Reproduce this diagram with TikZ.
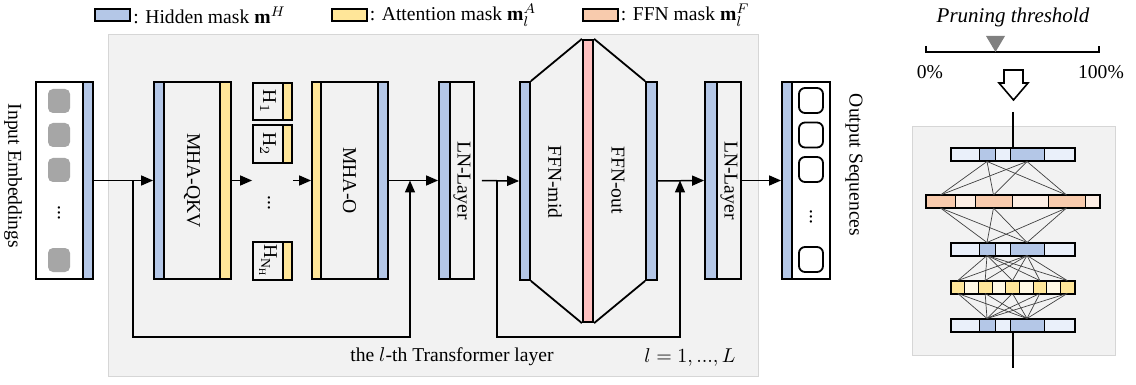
\documentclass[tikz,border=0pt]{standalone}
\usepackage{fontspec}
\setmainfont{Liberation Serif}
\usetikzlibrary{arrows.meta,calc}

\definecolor{hidblue}{HTML}{B4C7E7}
\definecolor{attyellow}{HTML}{FFE699}
\definecolor{ffnorange}{HTML}{F8CBAD}
\definecolor{ffnpink}{HTML}{FFC0C0}
\definecolor{hidlight}{HTML}{EAF0FA}
\definecolor{attlight}{HTML}{FFF8E3}
\definecolor{ffnlight}{HTML}{FDEEE4}
\definecolor{panelgray}{HTML}{F2F2F2}
\definecolor{panelline}{HTML}{D6D6D6}
\definecolor{tokgray}{HTML}{A6A6A6}

\tikzset{
  box/.style={draw, line width=0.9pt, minimum height=98.5pt, inner sep=0pt},
  mask/.style={box, minimum width=5pt},
  lbl/.style={rotate=-90, inner sep=0pt},
  link/.style={line width=0.75pt, -{Triangle[length=6pt,width=5pt]}},
  legbox/.style={draw, line width=1pt, minimum width=17.5pt, minimum height=6pt, inner sep=0pt},
  seg/.style={draw, line width=0.5pt, minimum height=6pt, inner sep=0pt},
  wire/.style={line width=0.35pt, black!75},
}

\begin{document}
\begin{tikzpicture}[x=0.5pt, y=-0.5pt, font=\fontsize{9.8}{11}\selectfont]
  \useasboundingbox (0,0) rectangle (1136,385);

  % legend
  \node[legbox, fill=hidblue] (legH) at (112.5,15) {};
  \node[anchor=west, inner sep=1pt] (legHtxt) at (legH.east) {: Hidden mask $\mathbf{m}^H$};
  \node[legbox, fill=attyellow] (legA) at (349,15) {};
  \node[anchor=west, inner sep=1pt] (legAtxt) at (legA.east) {: Attention mask $\mathbf{m}_l^A$};
  \node[legbox, fill=ffnorange] (legF) at (600,15) {};
  \node[anchor=west, inner sep=1pt] (legFtxt) at (legF.east) {: FFN mask $\mathbf{m}_l^F$};

  % transformer layer background
  \filldraw[fill=panelgray, draw=panelline] (108,34) rectangle (758,376);

  % input embeddings
  \node[lbl] (embtxt) at (13,176) {Input Embeddings};
  \node[box, fill=white, minimum width=23.5pt] (emb) at (59.5,180.5) {};
  \node[mask, fill=hidblue] (embB) at (88,180.5) {};
  \foreach \y [count=\i] in {101,135,170,260}
    \node[fill=tokgray, rounded corners=2.5pt, minimum width=11pt, minimum height=12pt, inner sep=0pt] (tok\i) at (59,\y) {};
  \node[lbl] (tokdots) at (59,213) {...};

  % MHA-QKV
  \node[mask, fill=hidblue] (qkvB) at (159,180.5) {};
  \node[box, minimum width=28pt] (qkv) at (192,180.5) {};
  \node[mask, fill=attyellow, minimum width=5.5pt] (qkvY) at (225.5,180.5) {};
  \node[lbl] (qkvtxt) at (qkv) {MHA-QKV};

  % attention heads
  \node[draw, line width=0.9pt, minimum width=15pt, minimum height=18.5pt, inner sep=0pt] (h1) at (268,101.5) {};
  \node[draw, line width=0.9pt, fill=attyellow, minimum width=4.5pt, minimum height=18.5pt, inner sep=0pt] (h1m) at (287.5,101.5) {};
  \node[lbl] (h1txt) at (h1) {H$_1$};
  \node[draw, line width=0.9pt, minimum width=15pt, minimum height=19pt, inner sep=0pt] (h2) at (268,144) {};
  \node[draw, line width=0.9pt, fill=attyellow, minimum width=4.5pt, minimum height=19pt, inner sep=0pt] (h2m) at (287.5,144) {};
  \node[lbl] (h2txt) at (h2) {H$_2$};
  \node[lbl] (hdots) at (269,203) {...};
  \node[draw, line width=0.9pt, minimum width=15pt, minimum height=19pt, inner sep=0pt] (hN) at (268,261) {};
  \node[draw, line width=0.9pt, fill=attyellow, minimum width=4.5pt, minimum height=19pt, inner sep=0pt] (hNm) at (287.5,261) {};
  \node[lbl] (hNtxt) at (hN) {H$_{\mathrm{N}_{\mathrm{H}}}$};

  % MHA-O
  \node[mask, fill=attyellow, minimum width=4.5pt] (moY) at (316.5,180.5) {};
  \node[box, minimum width=28.5pt] (mo) at (349.5,180.5) {};
  \node[mask, fill=hidblue] (moB) at (383,180.5) {};
  \node[lbl] (motxt) at (mo) {MHA-O};

  % first layer norm
  \node[mask, fill=hidblue, minimum width=5.5pt] (ln1B) at (444.5,180.5) {};
  \node[box, minimum width=12pt] (ln1) at (462,180.5) {};
  \node[lbl] (ln1txt) at (ln1) {LN-Layer};

  % FFN
  \node[mask, fill=hidblue, minimum height=99pt] (fmB) at (525,181) {};
  \node[mask, fill=ffnpink, line width=1.1pt, minimum height=141pt] (pink) at (588,181) {};
  \node[mask, fill=hidblue, minimum width=5.5pt, minimum height=99pt] (foB) at (651.5,181) {};
  \draw[line width=0.9pt] (fmB.north east) -- (pink.north west)
    (fmB.south east) -- (pink.south west)
    (pink.north east) -- (foB.north west)
    (pink.south east) -- (foB.south west);
  \node[lbl] (fmtxt) at (555,182) {FFN-mid};
  \node[lbl] (fotxt) at (618,180) {FFN-out};

  % second layer norm
  \node[mask, fill=hidblue, minimum width=6pt] (ln2B) at (711,180.5) {};
  \node[box, minimum width=12pt] (ln2) at (729,180.5) {};
  \node[lbl] (ln2txt) at (ln2) {LN-Layer};

  % output sequences
  \node[mask, fill=hidblue] (outB) at (787,180.5) {};
  \node[box, fill=white, minimum width=19pt] (out) at (811,180.5) {};
  \foreach \y [count=\i] in {100.5,135,169.5,259.5}
    \node[draw, line width=0.9pt, rounded corners=3pt, minimum width=12pt, minimum height=12.5pt, inner sep=0pt] (seq\i) at (811,\y) {};
  \node[lbl] (seqdots) at (811,217) {...};
  \node[lbl] (outtxt) at (854,165) {Output Sequences};

  % main data path
  \draw[link] (embB.east) -- (qkvB.west);
  \draw[link] (qkvY.east) -- (qkvY.east -| h1.west);
  \draw[link] (h1m.east |- moY.west) -- (moY.west);
  \draw[link] (moB.east) -- (ln1B.west);
  \draw[link, shorten <=3.5pt] (ln1.east) -- (fmB.west);
  \draw[link] (foB.east) -- (ln2B.west);
  \draw[link] (ln2.east) -- (outB.west);

  % residual connections
  \coordinate (sk1) at (133,180.5);
  \coordinate (jn1) at (410,180.5);
  \draw[link] (sk1) -- ++(0,156.5) -| (jn1);
  \coordinate (sk2) at (497,180.5);
  \coordinate (jn2) at (680,180.5);
  \draw[link] (sk2) -- ++(0,156.5) -| (jn2);

  \node (laytxt) at (452,357) {the $l$-th Transformer layer};
  \node (lrange) at (690,357) {$l=1, ..., L$};

  % pruning threshold slider
  \node[font=\fontsize{10.5}{12}\selectfont\itshape] (thr) at (1013,17) {Pruning threshold};
  \draw[line width=0.9pt] (926,46) -- (926,52) -- (1099,52) -- (1099,46);
  \fill[black!50] (986,36) -- (1005,36) -- (995.5,52) -- cycle;
  \node (p0) at (930,72) {0\%};
  \node (p100) at (1101,72) {100\%};
  \draw[line width=0.8pt, fill=white] (1004,70) -- (1023,70) -- (1023,83) -- (1028,83)
    -- (1013.5,100) -- (999,83) -- (1004,83) -- cycle;

  % pruned network
  \filldraw[fill=panelgray, draw=panelline] (912,126) rectangle (1115,355);
  \foreach \r/\y in {top/155,mid/249,bot/325} {
    \foreach \a/\b/\c [count=\i] in {951/979/hidlight,979/995/hidblue,995/1010/hidlight,1010/1044/hidblue,1044/1074/hidlight} {
      \pgfmathsetmacro\w{(\b-\a)/2}
      \node[seg, fill=\c, minimum width=\w pt] (\r-\i) at ({(\a+\b)/2},\y) {};
    }
    \draw[line width=1pt] (\r-1.north west) rectangle (\r-5.south east);
  }
  \foreach \a/\b/\c [count=\i] in {926/955/ffnorange,955/975/ffnlight,975/1012/ffnorange,1012/1048/ffnlight,1048/1085/ffnorange,1085/1099/ffnlight} {
    \pgfmathsetmacro\w{(\b-\a)/2}
    \node[seg, fill=\c, minimum width=\w pt] (ffn-\i) at ({(\a+\b)/2},201.5) {};
  }
  \draw[line width=1pt] (ffn-1.north west) rectangle (ffn-6.south east);
  \foreach \c [count=\i] in {attyellow,attlight,attyellow,attlight,attyellow,attlight,attyellow,attlight,attyellow}
    \node[seg, fill=\c, minimum width=6.83pt] (att-\i) at ({951+(\i-0.5)*13.667},287) {};
  \draw[line width=1pt] (att-1.north west) rectangle (att-9.south east);

  \foreach \i in {2,4} {
    \foreach \j in {1,3,5} {
      \draw[wire] (top-\i.south) -- (ffn-\j.north);
      \draw[wire] (ffn-\j.south) -- (mid-\i.north);
    }
    \foreach \j in {1,3,5,7,9} {
      \draw[wire] (mid-\i.south) -- (att-\j.north);
      \draw[wire] (att-\j.south) -- (bot-\i.north);
    }
  }
  \coordinate (netin) at (1013,112);
  \coordinate (netout) at (1013,368);
  \draw[line width=0.9pt] (netin) -- (netin |- top-1.north);
  \draw[line width=0.9pt] (netout |- bot-1.south) -- (netout);
\end{tikzpicture}
\end{document}
